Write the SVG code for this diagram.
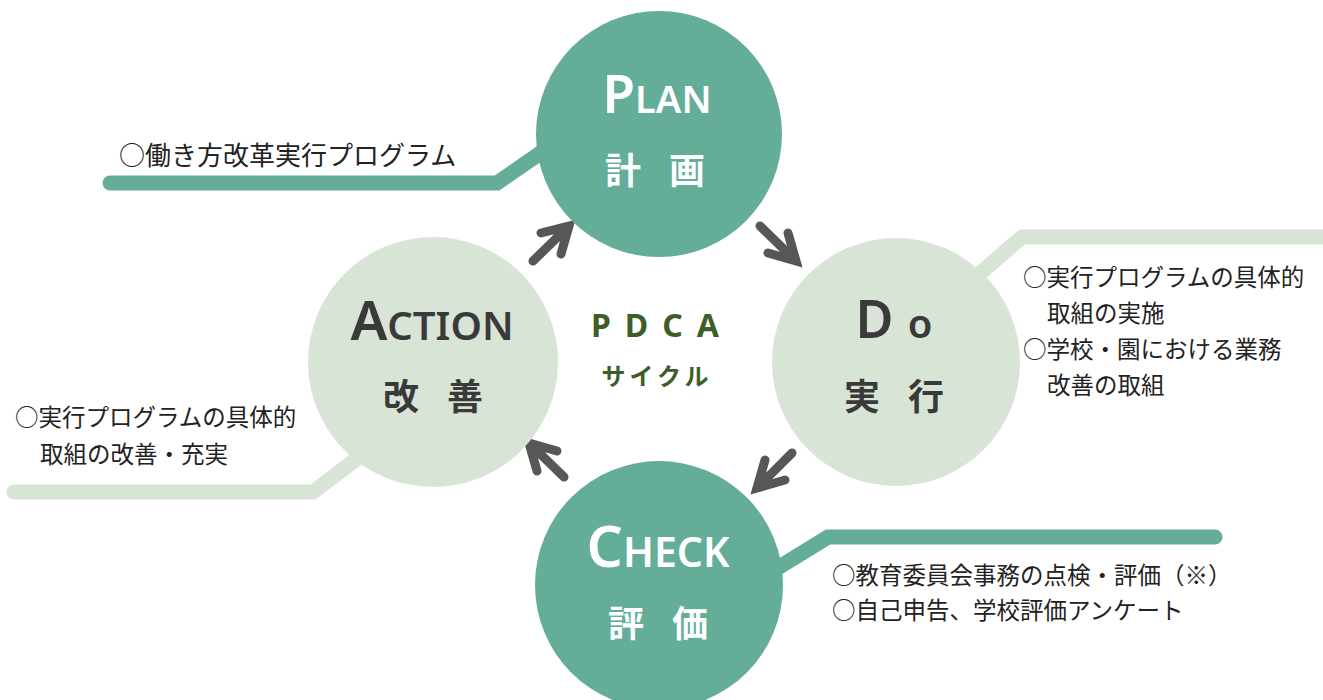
<svg xmlns="http://www.w3.org/2000/svg" width="1323" height="700" viewBox="0 0 1323 700">
<style>
.dark{fill:#63ad99}
.light{fill:#d8e4d6}
.ld{stroke:#63ad99;stroke-width:15;fill:none;stroke-linecap:round;stroke-linejoin:miter}
.ll{stroke:#d8e4d6;stroke-width:15;fill:none;stroke-linecap:round;stroke-linejoin:miter}
.arr{stroke:#575757;stroke-width:9;fill:none;stroke-linecap:round;stroke-linejoin:miter}
.body{font-family:"Noto Sans CJK JP","Noto Sans",sans-serif;font-size:23.5px;fill:#222}
.ttl{font-family:"Noto Sans","Noto Sans CJK JP",sans-serif;font-weight:600;text-anchor:middle}
.kanji{font-family:"Noto Sans CJK JP",sans-serif;font-weight:700;font-size:36px;text-anchor:middle}
.w{fill:#ffffff}
.k{fill:#3a3a3a}
</style>
<rect width="1323" height="700" fill="#ffffff"/>
<g id="connectors">
<path class="ld" d="M110 183 L497 183 L565 136"/>
<path class="ll" d="M1330 237 L1022 237 L955 295"/>
<path class="ll" d="M14 492 L313 492 L375 445"/>
<path class="ld" d="M1215 537 L828 537 L755 582"/>
<path class="arr" d="M533 261 L569 226 M541 233 L569 226 L561 254"/>
<path class="arr" d="M760 226 L796 261 M788 233 L796 261 L768 253"/>
<path class="arr" d="M792 453 L757 488 M765 460 L757 488 L785 480"/>
<path class="arr" d="M564 477 L529 443 M557 451 L529 443 L537 471"/>
</g>
<g id="plan">
<circle class="dark" cx="659" cy="134" r="123"/>
<text class="ttl w" x="657" y="113"><tspan font-size="53">P</tspan><tspan font-size="38">LAN</tspan></text>
<text class="kanji w" x="669" y="184" letter-spacing="28">計画</text>
</g>
<g id="do">
<circle class="light" cx="896" cy="362" r="124"/>
<text class="ttl k" x="894" y="338"><tspan font-size="52">D</tspan><tspan font-size="40" dx="14">o</tspan></text>
<text class="kanji k" x="908" y="410" letter-spacing="28">実行</text>
</g>
<g id="action">
<circle class="light" cx="433" cy="362" r="125"/>
<text class="ttl k" x="432" y="340"><tspan font-size="55">A</tspan><tspan font-size="40">CTION</tspan></text>
<text class="kanji k" x="447" y="410" letter-spacing="28">改善</text>
</g>
<g id="check">
<circle class="dark" cx="659" cy="585" r="124"/>
<text class="ttl w" x="658" y="567"><tspan font-size="57">C</tspan><tspan font-size="41">HECK</tspan></text>
<text class="kanji w" x="672" y="637" letter-spacing="28">評価</text>
</g>
<g id="center">
<text x="662" y="337" font-family="Noto Sans,sans-serif" font-weight="700" font-size="32" fill="#3d5e27" text-anchor="middle" letter-spacing="14">PDCA</text>
<text x="657" y="385" font-family="Noto Sans CJK JP,sans-serif" font-weight="700" font-size="24" fill="#3d5e27" text-anchor="middle" letter-spacing="4">サイクル</text>
</g>
<g id="plan-note">
<text class="body" x="119" y="165" style="font-size:26px">○働き方改革実行プログラム</text>
</g>
<g id="do-note">
<text class="body" x="1023" y="286">○実行プログラムの具体的</text>
<text class="body" x="1047" y="322">取組の実施</text>
<text class="body" x="1023" y="358">○学校・園における業務</text>
<text class="body" x="1047" y="394">改善の取組</text>
</g>
<g id="action-note">
<text class="body" x="15" y="426">○実行プログラムの具体的</text>
<text class="body" x="40" y="463">取組の改善・充実</text>
</g>
<g id="check-note">
<text class="body" x="832" y="584">○教育委員会事務の点検・評価（※）</text>
<text class="body" x="832" y="619">○自己申告、学校評価アンケート</text>
</g>
</svg>
